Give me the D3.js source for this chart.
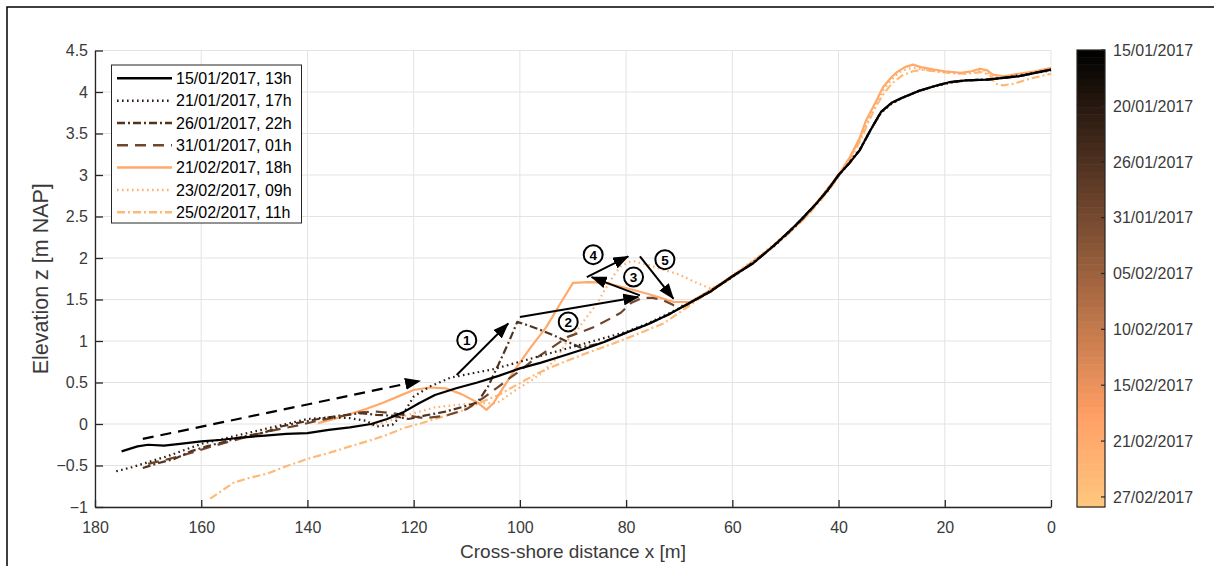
<!DOCTYPE html>
<html><head><meta charset="utf-8">
<script src="https://cdn.jsdelivr.net/npm/d3@7"></script>
<style>body{margin:0;background:#fff}svg{display:block;font-family:"Liberation Sans",Arial,sans-serif}</style>
</head><body><svg id="c" width="1214" height="566"></svg>
<script>
// ---------- DATA ----------
const seriesLabels = ["15/01/2017, 13h","21/01/2017, 17h","26/01/2017, 22h","31/01/2017, 01h","21/02/2017, 18h","23/02/2017, 09h","25/02/2017, 11h"];
const seriesDates = ["2017-01-15T13:00","2017-01-21T17:00","2017-01-26T22:00","2017-01-31T01:00","2017-02-21T18:00","2017-02-23T09:00","2017-02-25T11:00"];
const seriesStyles = ["solid","dot","dashdot","dash","solid","dot","dashdot"];

const p150117 = [[175,-0.33],[172,-0.27],[170,-0.25],[167,-0.26],[164,-0.24],[160,-0.21],[156,-0.19],[152,-0.16],[148,-0.14],[144,-0.12],[140,-0.11],[136,-0.07],[132,-0.04],[128,0.00],[125,0.06],[122,0.14],[119,0.25],[116,0.35],[112,0.43],[108,0.50],[104,0.58],[100,0.67],[96,0.74],[92,0.82],[88,0.90],[84,0.99],[80,1.10],[76,1.20],[72,1.32],[68,1.46],[64,1.60],[60,1.78],[56,1.94],[52,2.16],[48,2.40],[44,2.67],[42,2.82],[40,3.00],[38,3.14],[36,3.30],[34,3.54],[32,3.76],[30,3.87],[28,3.93],[25,4.01],[22,4.07],[19,4.12],[16,4.14],[12,4.15],[9,4.17],[6,4.19],[3,4.23],[0,4.27]];
const p210117 = [[176,-0.57],[173,-0.52],[170,-0.46],[166,-0.38],[163,-0.31],[160,-0.24],[156,-0.18],[152,-0.12],[148,-0.06],[144,0.00],[140,0.06],[136,0.08],[132,0.07],[129,0.04],[127,-0.03],[124,-0.01],[122,0.12],[120,0.33],[117,0.45],[113,0.56],[109,0.61],[105,0.66],[100,0.75],[95,0.84],[90,0.93],[85,1.02],[80,1.11],[76,1.21],[72,1.33],[68,1.46],[64,1.61],[60,1.77],[56,1.95],[52,2.15],[48,2.39],[44,2.67],[42,2.83],[40,2.99],[38,3.15],[36,3.31],[34,3.54],[32,3.75],[30,3.86],[28,3.93],[25,4.01],[22,4.07],[19,4.11],[16,4.14],[12,4.15],[9,4.17],[6,4.20],[3,4.23],[0,4.26]];
const p260117 = [[171,-0.53],[168,-0.47],[165,-0.42],[162,-0.33],[159,-0.27],[156,-0.22],[152,-0.15],[148,-0.10],[145,-0.03],[142,0.01],[138,0.06],[134,0.10],[130,0.13],[127,0.11],[124,0.10],[121,0.06],[118,0.10],[114,0.15],[110,0.22],[108,0.26],[106,0.45],[104,0.72],[102,1.00],[100.5,1.23],[99,1.20],[96,1.13],[93,1.05],[91,0.99],[88.5,0.92],[85,0.97],[80,1.10],[76,1.20],[72,1.32],[68,1.46],[64,1.60],[60,1.78],[56,1.94],[52,2.16],[48,2.40],[44,2.67],[42,2.82],[40,3.00],[38,3.14],[36,3.30],[34,3.54],[32,3.76],[30,3.87],[28,3.93],[25,4.01],[22,4.07],[19,4.12],[16,4.14],[12,4.15],[9,4.17],[6,4.19],[3,4.23],[0,4.27]];
const p310117 = [[170,-0.48],[166,-0.42],[162,-0.35],[158,-0.27],[154,-0.20],[150,-0.13],[146,-0.07],[142,-0.02],[138,0.04],[134,0.09],[130,0.14],[127,0.15],[124,0.13],[121,0.10],[118,0.07],[114,0.10],[110,0.18],[107,0.31],[104,0.45],[102,0.55],[100,0.64],[97.5,0.77],[94,0.92],[91,1.05],[88,1.12],[86,1.17],[83,1.27],[81,1.34],[79,1.46],[77,1.52],[75,1.52],[73,1.49],[71,1.43],[69,1.42],[66,1.53],[62,1.69],[58,1.86],[54,2.05],[50,2.27],[46,2.52],[42,2.82],[40,3.00],[38,3.14],[36,3.30],[34,3.54],[32,3.76],[30,3.87],[28,3.93],[25,4.01],[22,4.07],[19,4.12],[16,4.14],[12,4.15],[9,4.17],[6,4.19],[3,4.23],[0,4.27]];
const p210217 = [[138,0.01],[135,0.06],[132,0.12],[129,0.18],[126,0.25],[123,0.33],[120,0.41],[117,0.44],[114,0.43],[111,0.36],[108,0.26],[106.3,0.17],[105,0.25],[103,0.45],[101,0.65],[98,0.92],[95,1.17],[92.5,1.44],[90,1.70],[87,1.71],[84,1.70],[82,1.67],[79,1.62],[76,1.57],[73.5,1.52],[71,1.47],[68,1.47],[66,1.54],[62,1.70],[58,1.87],[54,2.06],[50,2.27],[46,2.51],[42,2.84],[40,3.00],[38,3.20],[36,3.45],[34.8,3.66],[33,3.88],[31.6,4.06],[30,4.18],[29,4.24],[27.5,4.30],[26,4.33],[24.5,4.30],[22,4.27],[20,4.25],[17,4.23],[15,4.25],[13.4,4.28],[12,4.26],[11,4.21],[9,4.19],[6,4.22],[3,4.25],[0,4.29]];
const p230217 = [[128,-0.02],[124,0.05],[120,0.13],[116,0.20],[112,0.23],[108,0.25],[104.3,0.25],[101,0.40],[98,0.52],[96,0.61],[93,0.80],[91,1.01],[89,1.15],[87.4,1.29],[85.5,1.45],[83.7,1.65],[82,1.82],[81,1.90],[79.5,1.95],[78.5,1.96],[76,1.92],[73,1.86],[70,1.80],[66.7,1.70],[64,1.63],[62,1.70],[58,1.88],[54,2.07],[50,2.28],[46,2.52],[42,2.83],[40,3.01],[38,3.19],[36,3.43],[34.5,3.65],[33,3.85],[31.5,4.03],[30,4.15],[28.5,4.24],[27,4.28],[25.5,4.29],[23,4.26],[20,4.24],[17,4.22],[14,4.25],[12.5,4.26],[11,4.18],[9,4.17],[6,4.21],[3,4.24],[0,4.28]];
const p250217 = [[158.3,-0.90],[156,-0.80],[154,-0.71],[151,-0.65],[147.7,-0.60],[144,-0.51],[140,-0.42],[136,-0.35],[132,-0.27],[128.8,-0.21],[125,-0.13],[122,-0.05],[119,0.00],[115,0.08],[111.3,0.15],[107,0.27],[104,0.35],[101.2,0.45],[97,0.60],[92.4,0.73],[88,0.84],[85,0.91],[82.4,0.97],[78,1.08],[73,1.21],[70,1.34],[66,1.52],[62,1.68],[58,1.86],[54,2.05],[50,2.26],[46,2.50],[42,2.80],[40,2.98],[38,3.17],[36,3.40],[34.5,3.62],[33,3.82],[31.5,3.98],[30,4.10],[28,4.20],[26,4.25],[24,4.27],[22,4.25],[19,4.23],[16,4.22],[13,4.24],[11.5,4.20],[10.5,4.10],[9,4.08],[7,4.10],[4,4.16],[0,4.22]];
const profiles = [p150117,p210117,p260117,p310117,p210217,p230217,p250217];

const xTicks = [180,160,140,120,100,80,60,40,20,0];
const yTicks = [-1,-0.5,0,0.5,1,1.5,2,2.5,3,3.5,4,4.5];
const cbTickLabels = ["15/01/2017","20/01/2017","26/01/2017","31/01/2017","05/02/2017","10/02/2017","15/02/2017","21/02/2017","27/02/2017"];
const cbRange = ["2017-01-15T13:00","2017-02-28T12:00"];

// annotations (data coordinates)
const dashedArrow = [[171,-0.18],[118.8,0.52]];
const arrows = [[[111.9,0.59],[102.2,1.21]],[[100,1.29],[77.7,1.53]],[[77.4,1.55],[86.5,1.77]],[[87.4,1.77],[79.6,2.02]],[[77.4,2.02],[71.1,1.51]]];
const markers = [["1",110,1.01],["2",90.9,1.23],["3",78.6,1.77],["4",86.2,2.04],["5",72.7,1.98]];

// ---------- DRAW ----------
const svg = d3.select("#c");
svg.append("rect").attr("width",1214).attr("height",566).attr("fill","#fff");
svg.append("path").attr("d","M7,566V7H1214").attr("fill","none").attr("stroke","#000").attr("stroke-width",1.5);

const L=95,R=1051,T=50.5,B=507;
const x = d3.scaleLinear().domain([180,0]).range([L,R]);
const y = d3.scaleLinear().domain([-1,4.5]).range([B,T]);

const copper = t => d3.rgb(255*Math.min(1,1.25*t),255*0.7812*t,255*0.4975*t);
const parse = d3.timeParse("%Y-%m-%dT%H:%M");
const tScale = d3.scaleTime().domain(cbRange.map(parse)).range([0,1]);
const colors = seriesDates.map(d=>copper(tScale(parse(d))).formatHex());

const dashes = {solid:null,dot:"1.6,3.4",dashdot:"8,3,2,3",dash:"11,7"};

// grid
const g = svg.append("g");
g.selectAll(".gx").data(xTicks).join("line").attr("x1",d=>x(d)).attr("x2",d=>x(d)).attr("y1",T).attr("y2",B).attr("stroke","#e3e3e3").attr("stroke-width",1);
g.selectAll(".gy").data(yTicks).join("line").attr("y1",d=>y(d)).attr("y2",d=>y(d)).attr("x1",L).attr("x2",R).attr("stroke","#e3e3e3").attr("stroke-width",1);

// axes
const ax = svg.append("g").attr("transform",`translate(0,${B})`).call(d3.axisBottom(x).tickValues(xTicks).tickSize(-7).tickPadding(15).tickSizeOuter(0));
const ay = svg.append("g").attr("transform",`translate(${L},0)`).call(d3.axisLeft(y).tickValues(yTicks).tickSize(-8).tickPadding(7).tickSizeOuter(0).tickFormat(d3.format("")));
[ax,ay].forEach(a=>{a.select(".domain").attr("stroke","#262626").attr("stroke-width",1.3);a.selectAll(".tick line").attr("stroke","#262626").attr("stroke-width",1.3);a.selectAll("text").attr("fill","#3a3a3a").attr("font-size",16).attr("font-family","Liberation Sans, Arial, sans-serif");});

// axis titles
svg.append("text").attr("x",(L+R)/2).attr("y",558).attr("text-anchor","middle").attr("font-size",19).attr("fill","#3a3a3a").text("Cross-shore distance x [m]");
svg.append("text").attr("transform",`translate(48,${(T+B)/2}) rotate(-90)`).attr("text-anchor","middle").attr("font-size",21.5).attr("fill","#3a3a3a").text("Elevation z [m NAP]");

// profiles
const line = d3.line().x(d=>x(d[0])).y(d=>y(d[1]));
const order = [6,5,4,3,2,1,0];
svg.append("g").selectAll("path").data(order).join("path")
  .attr("d",i=>line(profiles[i])).attr("fill","none")
  .attr("stroke",i=>colors[i]).attr("stroke-width",2.2)
  .attr("stroke-dasharray",i=>dashes[seriesStyles[i]]).attr("stroke-linejoin","round");

// arrows
const defs = svg.append("defs");
defs.append("marker").attr("id","ah").attr("viewBox","0 0 16 12").attr("refX",15).attr("refY",6)
  .attr("markerWidth",16).attr("markerHeight",12).attr("markerUnits","userSpaceOnUse").attr("orient","auto")
  .append("path").attr("d","M0,0L16,6L0,12Z").attr("fill","#000");
svg.append("line").attr("x1",x(dashedArrow[0][0])).attr("y1",y(dashedArrow[0][1])).attr("x2",x(dashedArrow[1][0])).attr("y2",y(dashedArrow[1][1]))
  .attr("stroke","#000").attr("stroke-width",2.2).attr("stroke-dasharray","11,7").attr("marker-end","url(#ah)");
svg.append("g").selectAll("line").data(arrows).join("line")
  .attr("x1",d=>x(d[0][0])).attr("y1",d=>y(d[0][1])).attr("x2",d=>x(d[1][0])).attr("y2",d=>y(d[1][1]))
  .attr("stroke","#000").attr("stroke-width",2).attr("marker-end","url(#ah)");
const mk = svg.append("g").selectAll("g").data(markers).join("g").attr("transform",d=>`translate(${x(d[1])},${y(d[2])})`);
mk.append("circle").attr("r",9.5).attr("fill","#fff").attr("stroke","#000").attr("stroke-width",2);
mk.append("text").attr("text-anchor","middle").attr("dy","0.36em").attr("font-size",13.5).attr("font-weight","bold").text(d=>d[0]);

// legend
const lg = svg.append("g");
lg.append("rect").attr("x",111.5).attr("y",65).attr("width",190).attr("height",158).attr("fill","#fff").attr("stroke","#262626").attr("stroke-width",1);
const rows = lg.selectAll("g").data(seriesLabels).join("g").attr("transform",(d,i)=>`translate(0,${78.3+i*22.33})`);
rows.append("line").attr("x1",117).attr("x2",172).attr("stroke",(d,i)=>colors[i]).attr("stroke-width",2.5).attr("stroke-dasharray",(d,i)=>dashes[seriesStyles[i]]);
rows.append("text").attr("x",176).attr("dy","0.36em").attr("font-size",16).attr("fill","#000").text(d=>d);

// colorbar
const cbL=1077,cbW=28,cbT=50,cbB=507;
const nBands=64;
const cb = svg.append("g");
cb.selectAll("rect").data(d3.range(nBands)).join("rect")
  .attr("x",cbL).attr("width",cbW).attr("y",i=>cbT+(cbB-cbT)*i/nBands).attr("height",(cbB-cbT)/nBands+0.6)
  .attr("fill",i=>copper((i+0.5)/nBands).formatHex());
cb.append("rect").attr("x",cbL).attr("y",cbT).attr("width",cbW).attr("height",cbB-cbT).attr("fill","none").attr("stroke","#262626").attr("stroke-width",1.2);
const cbY = d3.scaleLinear().domain([0,8.18]).range([cbT,cbB]);
const ct = cb.selectAll("g.t").data(cbTickLabels).join("g").attr("transform",(d,i)=>`translate(0,${cbY(i)})`);
ct.append("line").attr("x1",cbL+cbW-4).attr("x2",cbL+cbW).attr("stroke","#262626").attr("stroke-width",1.2);
ct.append("text").attr("x",1113).attr("dy","0.36em").attr("font-size",16).attr("fill","#3a3a3a").text(d=>d);
</script></body></html>
